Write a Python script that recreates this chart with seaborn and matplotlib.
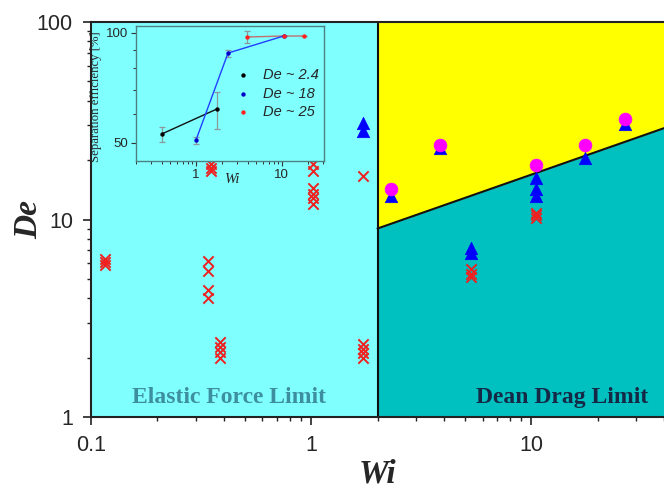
import numpy as np
import matplotlib
matplotlib.use("Agg")
import matplotlib.pyplot as plt
import seaborn as sns
from matplotlib.ticker import FixedLocator, NullFormatter, LogLocator

sns.set_style("ticks")
plt.rcParams['font.family'] = ['Liberation Sans', 'DejaVu Sans']

# ---- main chart data (Wi, De) ----
cross_wi = [0.116, 0.116, 0.116,
            0.34, 0.34, 0.34, 0.34,
            0.35, 0.35, 0.35,
            0.385, 0.385, 0.385, 0.385,
            1.02, 1.02, 1.02, 1.02, 1.02, 1.02,
            1.71,
            1.71, 1.71, 1.71, 1.71,
            5.3, 5.3, 5.3,
            10.5, 10.5, 10.5]
cross_de = [5.9, 6.1, 6.3,
            6.2, 5.5, 4.4, 4.0,
            19.0, 18.2, 17.5,
            2.39, 2.26, 2.13, 2.0,
            19.2, 17.5, 14.5, 13.5, 12.8, 12.0,
            16.7,
            2.35, 2.2, 2.1, 2.0,
            5.6, 5.3, 5.1,
            10.8, 10.5, 10.2]

tri_wi = [1.71, 1.71, 2.31, 3.85, 5.3, 5.3, 10.5, 10.5, 10.5, 17.6, 26.5]
tri_de = [30.9, 28.1, 13.2, 22.9, 7.2, 6.8, 16.3, 14.3, 13.2, 20.5, 30.5]

circ_wi = [2.31, 3.85, 10.5, 17.6, 26.5]
circ_de = [14.3, 23.9, 18.8, 23.9, 32.4]

# regime boundaries
wi_crit = 2.0
boundary_wi = [2.0, 40.0]
boundary_de = [9.0, 29.0]

# ---- inset data (Wi, separation efficiency %) ----
eff_wi_24 = [0.40, 1.75]
eff_24 = [52.9, 61.9]
eff_24_lo = [50.4, 54.6]
eff_24_hi = [55.2, 68.9]

eff_wi_18 = [1.0, 2.36, 10.5]
eff_18 = [50.9, 88.1, 98.1]
eff_18_lo = [49.8, 86.0, 98.1]
eff_18_hi = [52.0, 90.0, 98.1]

eff_wi_25 = [3.9, 10.5, 18.0]
eff_25 = [97.5, 98.1, 98.1]
eff_25_lo = [94.0, 98.1, 98.1]
eff_25_hi = [101.3, 98.1, 98.1]

W, H = 664, 493
fig = plt.figure(figsize=(W / 100, H / 100), dpi=100)
ax = fig.add_axes([91 / W, 76 / H, 573 / W, 395 / H])
ax.set_xscale('log')
ax.set_yscale('log')
ax.set_xlim(0.1, 40)
ax.set_ylim(1, 100)

# background regions
ax.axvspan(0.1, wi_crit, color='#80ffff', zorder=0)
bw = np.array(boundary_wi)
bd = np.array(boundary_de)
ax.fill_between(bw, bd, 100, color='#ffff00', zorder=0, linewidth=0)
ax.fill_between(bw, 1, bd, color='#00c0c0', zorder=0, linewidth=0)
ax.plot([wi_crit, wi_crit], [1, 100], color='#111111', lw=1.5, zorder=1)
ax.plot(bw, bd, color='#111111', lw=1.5, zorder=1)

sns.scatterplot(x=cross_wi, y=cross_de, ax=ax, marker='x', color='#ee2020',
                s=55, linewidth=1.4, zorder=3)
sns.scatterplot(x=tri_wi, y=tri_de, ax=ax, marker='^', color='#0000ff',
                s=80, edgecolor='#0000ff', linewidth=0.5, zorder=4)
sns.scatterplot(x=circ_wi, y=circ_de, ax=ax, marker='o', color='#ff00ff',
                s=85, edgecolor='#ff00ff', linewidth=0.5, zorder=5)

ax.set_xticks([0.1, 1, 10])
ax.set_xticklabels(['0.1', '1', '10'])
ax.set_yticks([1, 10, 100])
ax.set_yticklabels(['1', '10', '100'])
ax.xaxis.set_minor_locator(LogLocator(base=10, subs=np.arange(2, 10)))
ax.yaxis.set_minor_locator(LogLocator(base=10, subs=np.arange(2, 10)))
ax.xaxis.set_minor_formatter(NullFormatter())
ax.yaxis.set_minor_formatter(NullFormatter())
ax.tick_params(which='major', direction='out', length=6, width=1.2,
               labelsize=15.5, pad=7, color='#222222')
ax.tick_params(which='minor', direction='out', length=3, width=1, color='#222222')
for side in ['left', 'bottom', 'top']:
    ax.spines[side].set_linewidth(1.5)
    ax.spines[side].set_color('#222222')
ax.spines['right'].set_visible(False)

ax.set_xlabel('Wi', family='Liberation Serif', style='italic', weight='bold',
              fontsize=24, labelpad=2)
ax.set_ylabel('De', family='Liberation Serif', style='italic', weight='bold',
              fontsize=24)
ax.yaxis.set_label_coords(-0.082, 0.5)

ax.text(0.072, 0.035, 'Elastic Force Limit', transform=ax.transAxes,
        family='Liberation Serif', weight='bold', fontsize=17,
        color='#3d8f9f', ha='left', va='baseline', zorder=6)
ax.text(0.972, 0.035, 'Dean Drag Limit', transform=ax.transAxes,
        family='Liberation Serif', weight='bold', fontsize=17,
        color='#152845', ha='right', va='baseline', zorder=6)

# ---- inset ----
ins = fig.add_axes([136 / W, (H - 161) / H, 188 / W, 135 / H])
ins.set_facecolor('#80ffff')
ins.set_xscale('log')
ins.set_yscale('log')
ins.set_xlim(0.2, 31)
ins.set_ylim(44.6, 104.5)

err_kw = dict(fmt='none', ecolor='#8a9a9a', elinewidth=0.9, capsize=2.5, capthick=0.9)
ins.errorbar(eff_wi_24, eff_24,
             yerr=[np.subtract(eff_24, eff_24_lo), np.subtract(eff_24_hi, eff_24)], **err_kw)
ins.errorbar(eff_wi_18, eff_18,
             yerr=[np.subtract(eff_18, eff_18_lo), np.subtract(eff_18_hi, eff_18)], **err_kw)
ins.errorbar(eff_wi_25, eff_25,
             yerr=[np.subtract(eff_25, eff_25_lo), np.subtract(eff_25_hi, eff_25)], **err_kw)

sns.lineplot(x=eff_wi_25, y=eff_25, ax=ins, color='#c07070', lw=1.0, zorder=3)
sns.lineplot(x=eff_wi_24, y=eff_24, ax=ins, color='#111111', lw=1.0, zorder=3)
sns.lineplot(x=eff_wi_18, y=eff_18, ax=ins, color='#2040ff', lw=1.0, zorder=3)
sns.scatterplot(x=eff_wi_24, y=eff_24, ax=ins, color='black', s=10, linewidth=0,
                label='De ~ 2.4', zorder=4)
sns.scatterplot(x=eff_wi_18, y=eff_18, ax=ins, color='#0000cc', s=10, linewidth=0,
                label='De ~ 18', zorder=4)
sns.scatterplot(x=eff_wi_25, y=eff_25, ax=ins, color='#ff2020', s=10, linewidth=0,
                label='De ~ 25', zorder=4)

ins.set_xticks([1, 10])
ins.set_xticklabels(['1', '10'])
ins.yaxis.set_major_locator(FixedLocator([50, 100]))
ins.set_yticklabels(['50', '100'])
ins.yaxis.set_minor_locator(FixedLocator([60, 70, 80, 90]))
ins.yaxis.set_minor_formatter(NullFormatter())
ins.xaxis.set_minor_locator(LogLocator(base=10, subs=np.arange(2, 10)))
ins.xaxis.set_minor_formatter(NullFormatter())
ins.tick_params(which='major', direction='out', length=3.5, width=0.8,
                labelsize=9.5, pad=2, color='#333333')
ins.tick_params(which='minor', direction='out', length=2, width=0.7, color='#333333')
for sp in ins.spines.values():
    sp.set_color('#4d8080')
    sp.set_linewidth(1.0)

ins.set_xlabel('Wi', family='Liberation Serif', style='italic', fontsize=10.5)
ins.xaxis.set_label_coords(0.51, -0.09)
ins.set_ylabel('Separation efficiency [%]', family='Liberation Serif', fontsize=9.2)
ins.yaxis.set_label_coords(-0.18, 0.48)

leg = ins.legend(loc='center left', bbox_to_anchor=(0.49, 0.50), frameon=False,
                 prop={'family': 'Liberation Sans', 'style': 'italic', 'size': 10.5},
                 handletextpad=0.9, labelspacing=0.3, markerscale=1.0,
                 borderpad=0, handlelength=1.0)

fig.savefig('out.png', dpi=100)
